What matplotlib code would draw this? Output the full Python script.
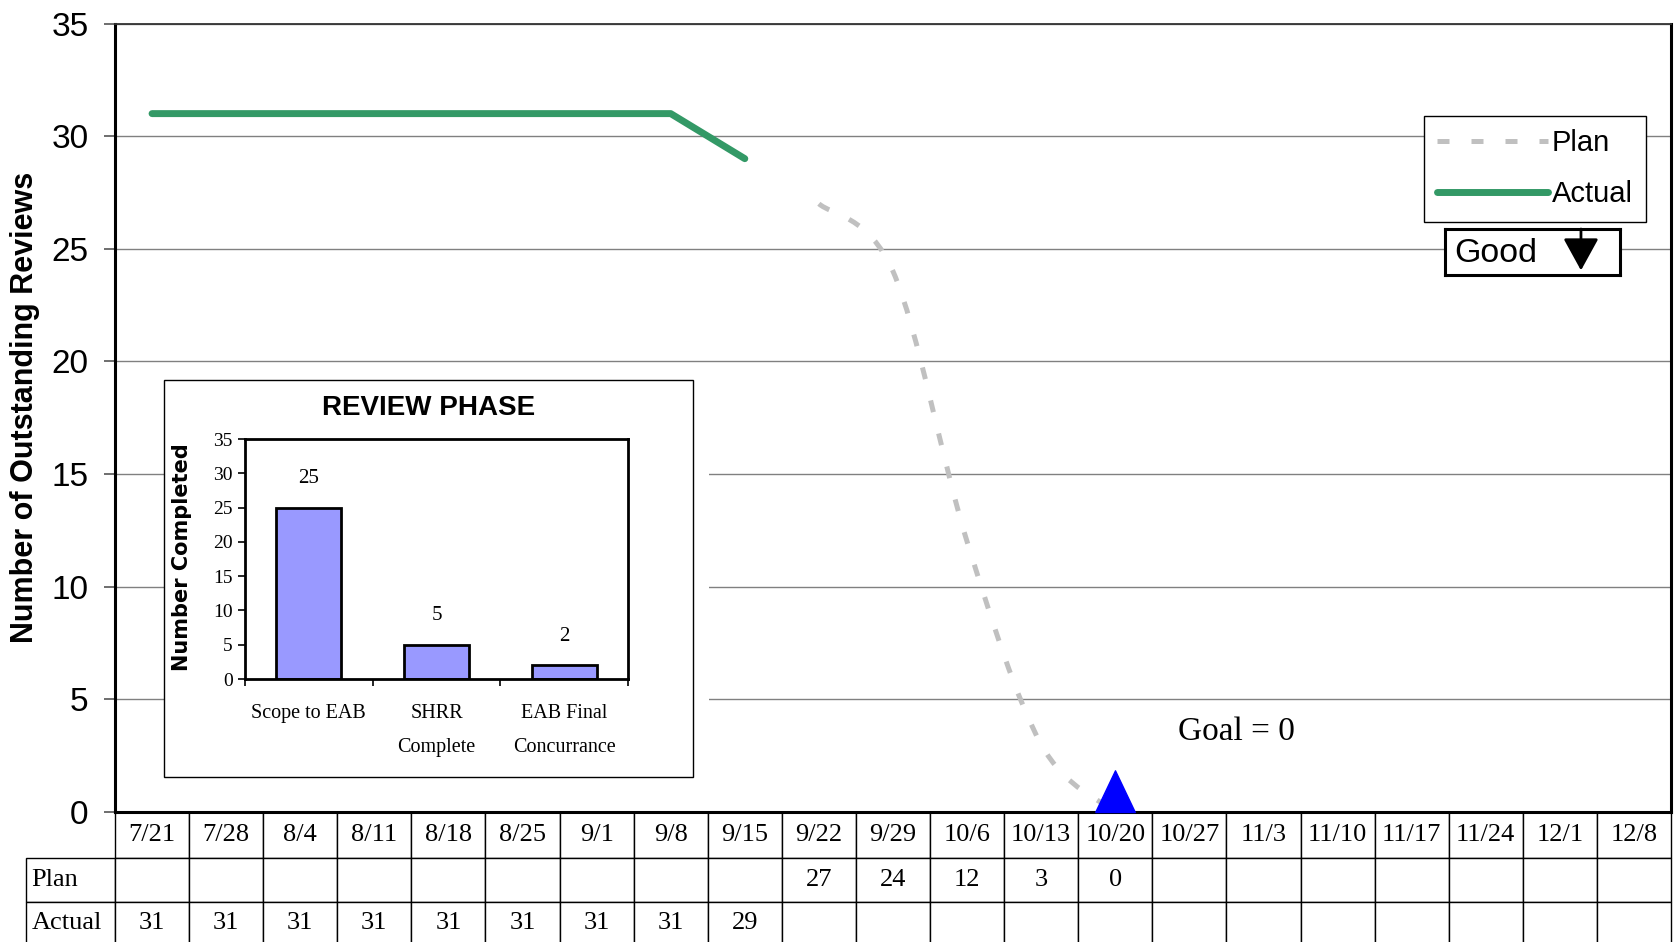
import numpy as np
import matplotlib
matplotlib.use("Agg")
import matplotlib.pyplot as plt
from matplotlib.path import Path
from matplotlib.patches import PathPatch, Rectangle
from matplotlib.lines import Line2D
from matplotlib.table import Table

plt.rcParams['font.family'] = 'Liberation Sans'

weeks = ['7/21', '7/28', '8/4', '8/11', '8/18', '8/25', '9/1', '9/8', '9/15', '9/22', '9/29',
         '10/6', '10/13', '10/20', '10/27', '11/3', '11/10', '11/17', '11/24', '12/1', '12/8']
nan = np.nan
plan = [nan, nan, nan, nan, nan, nan, nan, nan, nan, 27, 24, 12, 3, 0,
        nan, nan, nan, nan, nan, nan, nan]
actual = [31, 31, 31, 31, 31, 31, 31, 31, 29, nan, nan, nan,
          nan, nan, nan, nan, nan, nan, nan, nan, nan]
goal = 0
goal_week = '10/20'

phases = ['Scope to EAB', 'SHRR\nComplete', 'EAB Final\nConcurrance']
completed = [25, 5, 2]

W, H = 1680, 942
def box(l, t, r, b):
    # pixel box (left, top, right, bottom) -> figure fraction rect
    return [l / W, 1 - b / H, (r - l) / W, (b - t) / H]

fig = plt.figure(figsize=(W / 100, H / 100), dpi=100)
ax = fig.add_axes(box(115, 23.5, 1671, 812))

x = np.arange(len(weeks))
plan = np.array(plan, dtype=float)
actual = np.array(actual, dtype=float)

green = '#339966'
plan_style = dict(color='#c0c0c0', lw=3.6, linestyle=(0, (2.4, 4.4)))

# smoothed plan curve (cubic bezier through the points, like a spreadsheet "smoothed line")
m = ~np.isnan(plan)
pts = np.column_stack([x[m].astype(float), plan[m]])
n = len(pts)
verts = [pts[0]]
codes = [Path.MOVETO]
for i in range(n - 1):
    p_prev = pts[max(i - 1, 0)]
    p_next2 = pts[min(i + 2, n - 1)]
    c1 = pts[i] + (pts[i + 1] - p_prev) / 6
    c2 = pts[i + 1] - (p_next2 - pts[i]) / 6
    verts += [c1, c2, pts[i + 1]]
    codes += [Path.CURVE4] * 3
ax.add_patch(PathPatch(Path(verts, codes), fill=False, capstyle='butt', zorder=3,
                       edgecolor=plan_style['color'], lw=plan_style['lw'],
                       linestyle=plan_style['linestyle']))

ax.plot(x, actual, color=green, lw=5, solid_capstyle='round', solid_joinstyle='round', zorder=4)

# goal marker: triangle sitting on the goal value
tri = [(-1, 0), (1, 0), (0, 2.1), (-1, 0)]
ax.plot([weeks.index(goal_week)], [goal], marker=tri, ms=60, color='#0000ff',
        mec='#0000ff', ls='none', zorder=5, clip_on=False)
ax.text(14.64, 3.55, f'Goal = {goal}', family='Liberation Serif', fontsize=24,
        ha='center', va='center')

ax.set_xlim(-0.5, len(weeks) - 0.5)
ax.set_ylim(0, 35)
ax.set_yticks(range(0, 36, 5))
ax.set_xticks([])
ax.tick_params(axis='y', labelsize=24, length=8, width=1.2, color='#555555', pad=11)
ax.yaxis.grid(True, color='#808080', lw=1.0)
ax.set_axisbelow(True)
for s in ['left', 'bottom', 'right']:
    ax.spines[s].set_linewidth(2.2)
ax.spines['top'].set_linewidth(1.3)
ax.spines['top'].set_color('#333333')
ax.set_ylabel('Number of Outstanding Reviews', fontsize=22, fontweight='bold')
ax.yaxis.set_label_coords(-0.0485, 0.513)

# data table under the chart: label column + one column per week
tbl_h = (945 - 812) / 788.5
tbl = Table(ax, bbox=[(26 - 115) / 1556, -tbl_h, (1671 - 26) / 1556, tbl_h])
rows = [('Plan', plan), ('Actual', actual)]
lab_w, col_w = 89, 74.1
head = tbl.add_cell(0, 0, lab_w, 46, text='')
head.visible_edges = ''
for j, wk in enumerate(weeks, start=1):
    tbl.add_cell(0, j, col_w, 46, text=wk, loc='center')
for i, (name, vals) in enumerate(rows, start=1):
    c = tbl.add_cell(i, 0, lab_w, 43.5, text=name, loc='left')
    c.PAD = 0.06
    for j, v in enumerate(vals, start=1):
        tbl.add_cell(i, j, col_w, 43.5, text='' if np.isnan(v) else f'{v:g}', loc='center')
tbl.auto_set_font_size(False)
tbl.set_fontsize(19)
for cell in tbl.get_celld().values():
    cell.set_linewidth(1.0)
    cell.get_text().set_fontfamily('Liberation Serif')
ax.add_table(tbl)

# inset: review phase bar chart
ax.add_patch(Rectangle((164 / W, 1 - 790 / H), (709 - 164) / W, (790 - 372) / H,
                       transform=fig.transFigure, facecolor='white', edgecolor='none', zorder=1))
ax.add_patch(Rectangle((164 / W, 1 - 777 / H), (693 - 164) / W, (777 - 380) / H,
                       transform=fig.transFigure, facecolor='white', edgecolor='black', lw=1.0, zorder=1.5))
fig.text(429 / W, 1 - 408 / H, 'REVIEW PHASE', ha='center', va='center', fontsize=20,
         fontweight='bold')

iax = fig.add_axes(box(245, 439, 628, 679))
bars = iax.bar(range(len(phases)), completed, width=0.51, color='#9999ff', edgecolor='black', lw=2)
iax.bar_label(bars, padding=14, family='Liberation Serif', fontsize=15)
iax.set_ylim(0, 35)
iax.set_xlim(-0.5, len(phases) - 0.5)
iax.set_yticks(range(0, 36, 5))
iax.set_xticks(range(len(phases)))
iax.set_xticklabels(phases, family='Liberation Serif', fontsize=14.5, linespacing=2.1)
iax.set_xticks(np.arange(-0.5, len(phases), 1.0), minor=True)
iax.tick_params(axis='x', which='major', length=0, pad=18)
iax.tick_params(axis='x', which='minor', length=5, width=1.2)
iax.tick_params(axis='y', length=5, width=1.2, pad=4)
for lab in iax.get_yticklabels():
    lab.set_fontfamily('Liberation Serif')
    lab.set_fontsize(14)
for s in iax.spines.values():
    s.set_linewidth(2)
fig.text(182 / W, 1 - 557 / H, 'Number Completed', rotation=90, ha='center', va='center',
         family='DejaVu Sans', fontweight='heavy', fontsize=15)

# legend
handles = [Line2D([], [], color=plan_style['color'], lw=plan_style['lw'], linestyle=plan_style['linestyle']),
           Line2D([], [], color=green, lw=5, solid_capstyle='round')]
leg = ax.legend(handles, ['Plan', 'Actual'], loc='upper left', bbox_to_anchor=(1424 / W, 1 - 116 / H),
                bbox_transform=fig.transFigure, fancybox=False, edgecolor='black', framealpha=1,
                fontsize=21, handlelength=3.8, handletextpad=0.12, labelspacing=0.8,
                borderpad=0.45, borderaxespad=0)
leg.get_frame().set_linewidth(1.0)
leg.set_zorder(10)

# "Good" direction box
gax = fig.add_axes(box(1445, 229, 1620, 275))
gax.set_xticks([])
gax.set_yticks([])
for s in gax.spines.values():
    s.set_linewidth(2.2)
gax.text(0.055, 0.47, 'Good', fontsize=24.5, va='center', transform=gax.transAxes)
gax.annotate('', xy=(0.777, 0.1), xytext=(0.777, 1.0), xycoords='axes fraction',
             arrowprops=dict(arrowstyle='-|>,head_width=0.55,head_length=1.0', color='black',
                             lw=2, mutation_scale=20, shrinkA=0, shrinkB=0))

fig.savefig('out.png', dpi=100)
